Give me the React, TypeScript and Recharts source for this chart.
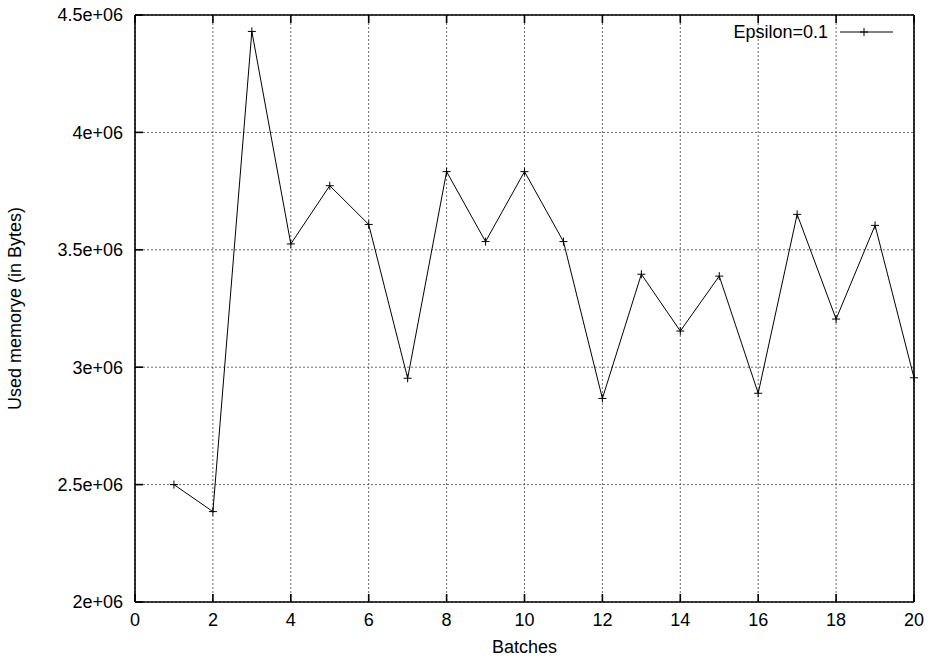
import React from "react";
import {
  LineChart,
  Line,
  XAxis,
  YAxis,
  CartesianGrid,
} from "recharts";

const batches = [1, 2, 3, 4, 5, 6, 7, 8, 9, 10, 11, 12, 13, 14, 15, 16, 17, 18, 19, 20];
const usedMemory = [
  2500000, 2385000, 4430000, 3525000, 3773000, 3608000, 2953000, 3833000, 3535000, 3833000,
  3535000, 2867000, 3396000, 3154000, 3388000, 2889000, 3651000, 3205000, 3604000, 2955000,
];
const xTicks = [0, 2, 4, 6, 8, 10, 12, 14, 16, 18, 20];
const yTicks = [2000000, 2500000, 3000000, 3500000, 4000000, 4500000];
const seriesName = "Epsilon=0.1";

const data = batches.map((b, i) => ({ batch: b, mem: usedMemory[i] }));

const font = "'Liberation Sans', Arial, sans-serif";

const fmtY = (v: number) => `${v / 1e6}e+06`;
const noLabel = () => "";

function PlusDot(props: any) {
  const { cx, cy } = props;
  if (cx == null || cy == null) return null;
  return (
    <g stroke="#000" strokeWidth={1}>
      <line x1={cx - 4} x2={cx + 4} y1={cy} y2={cy} />
      <line x1={cx} x2={cx} y1={cy - 4} y2={cy + 4} />
    </g>
  );
}

// gnuplot style key, top right inside the frame
function KeyBox() {
  return (
    <svg
      width={200}
      height={30}
      style={{ position: "absolute", left: 700, top: 17, overflow: "visible" }}
    >
      <text x={128} y={21} textAnchor="end" fontSize={18} fontFamily={font} fill="#000">
        {seriesName}
      </text>
      <line x1={140} x2={193} y1={15} y2={15} stroke="#000" strokeWidth={1} />
      <line x1={160} x2={168} y1={15} y2={15} stroke="#000" />
      <line x1={164} x2={164} y1={11} y2={19} stroke="#000" />
    </svg>
  );
}

export default function App() {
  return (
    <div style={{ position: "absolute", left: 0, top: 0, width: 933, height: 657, background: "#fff" }}>
      <LineChart
        width={933}
        height={657}
        data={data}
        margin={{ top: 14, right: 18, bottom: 0, left: 0 }}
      >
        <CartesianGrid
          xAxisId="b"
          yAxisId="l"
          stroke="#444"
          strokeDasharray="2 2"
          strokeWidth={0.8}
        />
        <XAxis
          xAxisId="b"
          dataKey="batch"
          type="number"
          domain={[0, 20]}
          ticks={xTicks}
          height={55}
          stroke="#000"
          strokeWidth={1.6}
          tickSize={-8}
          tickMargin={19}
          tick={{ fill: "#000", fontSize: 18, fontFamily: font }}
          label={{ value: "Batches", position: "insideBottom", offset: 4, fill: "#000", fontSize: 18, fontFamily: font }}
        />
        <XAxis
          xAxisId="t"
          orientation="top"
          dataKey="batch"
          type="number"
          domain={[0, 20]}
          ticks={xTicks}
          height={1}
          stroke="#000"
          strokeWidth={1.6}
          tickSize={-8}
          tickFormatter={noLabel}
        />
        <YAxis
          yAxisId="l"
          type="number"
          domain={[2000000, 4500000]}
          ticks={yTicks}
          width={135}
          stroke="#000"
          strokeWidth={1.6}
          tickSize={-8}
          tickMargin={20}
          tickFormatter={fmtY}
          tick={{ fill: "#000", fontSize: 18, fontFamily: font }}
          label={{
            value: "Used memorye (in Bytes)",
            angle: -90,
            position: "insideLeft",
            offset: 15,
            style: { textAnchor: "middle" },
            fill: "#000",
            fontSize: 18,
            fontFamily: font,
          }}
        />
        <YAxis
          yAxisId="r"
          orientation="right"
          type="number"
          domain={[2000000, 4500000]}
          ticks={yTicks}
          width={1}
          stroke="#000"
          strokeWidth={1.6}
          tickSize={-8}
          tickFormatter={noLabel}
        />
        <Line
          xAxisId="b"
          yAxisId="l"
          dataKey="mem"
          name={seriesName}
          type="linear"
          stroke="#000"
          strokeWidth={1}
          dot={<PlusDot />}
          activeDot={false}
          isAnimationActive={false}
        />
      </LineChart>
      <KeyBox />
    </div>
  );
}
